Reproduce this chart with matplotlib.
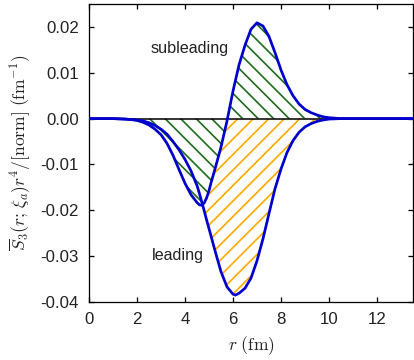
import matplotlib
matplotlib.use("Agg")
import matplotlib.pyplot as plt

# ---- data ----
r = [0.0, 1.0, 1.5, 1.75, 2.0, 2.25, 2.5, 2.75, 3.0, 3.25, 3.5, 3.75, 4.0, 4.25,
     4.5, 4.6, 4.7, 4.8, 4.9, 5.0, 5.1, 5.25, 5.5, 5.75, 6.0, 6.1, 6.25, 6.5,
     6.75, 7.0, 7.25, 7.5, 7.75, 8.0, 8.25, 8.5, 8.75, 9.0, 9.25, 9.5, 9.75,
     10.0, 10.5, 11.0, 12.0, 13.5]

leading = [0.0, 0.0, -0.0001, -0.0002, -0.0003, -0.0005, -0.0009, -0.0015,
           -0.0023, -0.0034, -0.0050, -0.0068, -0.0089, -0.0114,
           -0.0146, -0.0163, -0.0182, -0.0201, -0.0221, -0.0240, -0.0259,
           -0.0288, -0.0334, -0.0367, -0.0383, -0.0385, -0.0381, -0.0370,
           -0.0348, -0.0310, -0.0262, -0.0207, -0.0153, -0.0110, -0.0074,
           -0.0048, -0.0030, -0.0018, -0.0011, -0.0006, -0.0003,
           -0.0001, 0.0, 0.0, 0.0, 0.0]

subleading = [0.0, 0.0, -0.0001, -0.0002, -0.0004, -0.0008, -0.0014, -0.0023,
              -0.0035, -0.0054, -0.0080, -0.0111, -0.0141, -0.0166,
              -0.0183, -0.0188, -0.0189, -0.0184, -0.0173, -0.0157, -0.0137,
              -0.0110, -0.0062, -0.0005, 0.0060, 0.0083, 0.0117, 0.0160,
              0.0195, 0.0209, 0.0202, 0.0179, 0.0144, 0.0106, 0.0074,
              0.0050, 0.0032, 0.0020, 0.0013, 0.0008, 0.0004,
              0.0002, 0.0, 0.0, 0.0, 0.0]

xticks = [0, 2, 4, 6, 8, 10, 12]
yticks = [-0.04, -0.03, -0.02, -0.01, 0.00, 0.01, 0.02]
ytick_labels = ["-0.04", "-0.03", "-0.02", "-0.01", "0.00", "0.01", "0.02"]

# ---- styling ----
DPI = 93
plt.rcParams['font.family'] = ['Liberation Sans', 'DejaVu Sans']
plt.rcParams['mathtext.fontset'] = 'cm'
plt.rcParams['hatch.linewidth'] = 1.3

fig = plt.figure(figsize=(415 / DPI, 360 / DPI), dpi=DPI)
ax = fig.add_axes([89 / 415, 1 - 302 / 360, (413 - 89) / 415, (302 - 4) / 360])

green = '#1f6d1f'
orange = '#ffaa00'
blue = '#0000cc'
textc = '#222222'

ax.fill_between(r, leading, 0, facecolor='none', edgecolor=orange,
                hatch='//', linewidth=0, zorder=1)
ax.fill_between(r, subleading, 0, facecolor='white', edgecolor=green,
                hatch='\\\\', linewidth=0, zorder=1.5)
ax.axhline(0, color='black', lw=1.2, zorder=2)
ax.plot(r, leading, color=blue, lw=2.1, zorder=3)
ax.plot(r, subleading, color=blue, lw=2.1, zorder=3)

ax.set_xlim(0, 13.5)
ax.set_ylim(-0.04, 0.025)
ax.set_xticks(xticks)
ax.set_yticks(yticks)
ax.set_yticklabels(ytick_labels)
ax.tick_params(direction='in', top=True, right=True, length=4, width=1,
               labelsize=13, labelcolor=textc)
ax.tick_params(axis='y', pad=8)
ax.tick_params(axis='x', pad=8)
for s in ax.spines.values():
    s.set_linewidth(1.0)

ax.set_xlabel(r'$r\ (\mathrm{fm})$', fontsize=13.5, color=textc, labelpad=5)
ax.set_ylabel(r'$\overline{S}_3(r;\,\xi_a)r^4/[\mathrm{norm}]\ (\mathrm{fm}^{-1})$',
              fontsize=13.5, color=textc, labelpad=6)

ax.text(5.83, 0.0153, 'subleading', fontsize=12.5, color=textc,
        ha='right', va='center')
ax.text(4.78, -0.0298, 'leading', fontsize=12.5, color=textc,
        ha='right', va='center')

fig.savefig('out.png', dpi=DPI)
